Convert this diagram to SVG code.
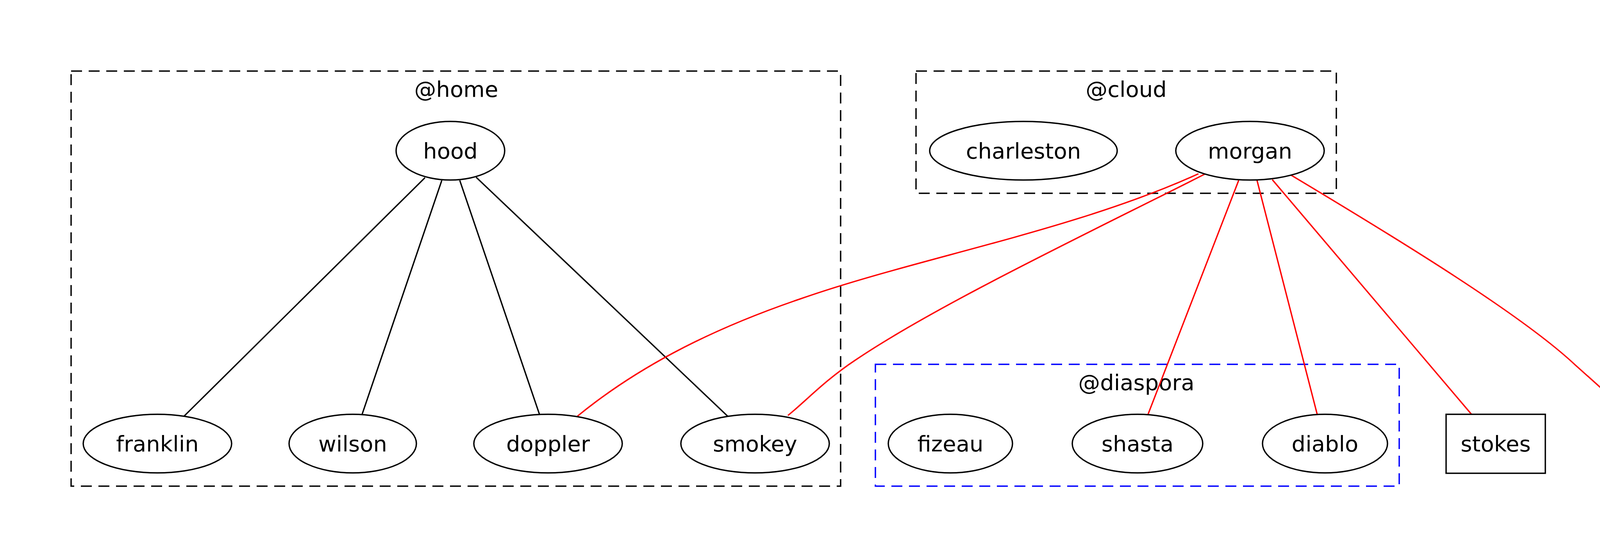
<svg xmlns="http://www.w3.org/2000/svg" width="4517" height="1429" viewBox="0 0 4517 1429">
<style>
text{font-family:"DejaVu Sans",sans-serif;font-size:56px;text-anchor:middle;dominant-baseline:central;fill:#000}
.n{fill:#fff;stroke:#000;stroke-width:3.5}
.c{fill:none;stroke:#000;stroke-width:3.5;stroke-dasharray:28,17}
.e{fill:none;stroke:#000;stroke-width:3.5}
.r{fill:none;stroke:#f00;stroke-width:3.5}
</style>
<rect width="4517" height="1429" fill="#fff"/>
<g id="cluster_home"><rect class="c" x="182" y="182" width="1970" height="1063"/><text x="1168" y="228">@home</text></g>
<g id="cluster_cloud"><rect class="c" x="2345" y="182" width="1076" height="313"/><text x="2883" y="228">@cloud</text></g>
<g id="cluster_diaspora"><rect class="c" style="stroke:#00f" x="2241" y="933" width="1341" height="312"/><text x="2909" y="979">@diaspora</text></g>
<g id="connectors">
<path class="e" d="M1088,455L471,1066"/>
<path class="e" d="M1131,462L927,1061"/>
<path class="e" d="M1177,462L1381,1061"/>
<path class="e" d="M1219,454L1863,1066"/>
<path class="r" d="M3068,445C2750,590 2350,660 2050,765C1800,850 1620,950 1478,1066"/>
<path class="r" d="M3084,446C2800,590 2400,780 2190,922C2110,975 2060,1030 2017,1064"/>
<path class="r" d="M3171,462L2939,1061"/>
<path class="r" d="M3218,462L3372,1061"/>
<path class="r" d="M3257,460L3767,1061"/>
<path class="r" d="M3306,449C3600,625 3900,810 4033,935C4100,995 4140,1030 4170,1061"/>
</g>
<g id="hood"><ellipse class="n" cx="1153" cy="386" rx="139" ry="75"/><text x="1153" y="386">hood</text></g>
<g id="franklin"><ellipse class="n" cx="403" cy="1136" rx="190" ry="75"/><text x="403" y="1136">franklin</text></g>
<g id="wilson"><ellipse class="n" cx="903" cy="1136" rx="163" ry="75"/><text x="903" y="1136">wilson</text></g>
<g id="doppler"><ellipse class="n" cx="1403" cy="1136" rx="190" ry="75"/><text x="1403" y="1136">doppler</text></g>
<g id="smokey"><ellipse class="n" cx="1933" cy="1136" rx="190" ry="75"/><text x="1933" y="1136">smokey</text></g>
<g id="charleston"><ellipse class="n" cx="2620" cy="386" rx="240" ry="75"/><text x="2620" y="386">charleston</text></g>
<g id="morgan"><ellipse class="n" cx="3200" cy="386" rx="190" ry="75"/><text x="3200" y="386">morgan</text></g>
<g id="fizeau"><ellipse class="n" cx="2433" cy="1136" rx="159" ry="75"/><text x="2433" y="1136">fizeau</text></g>
<g id="shasta"><ellipse class="n" cx="2912" cy="1136" rx="167" ry="75"/><text x="2912" y="1136">shasta</text></g>
<g id="diablo"><ellipse class="n" cx="3392" cy="1136" rx="160" ry="75"/><text x="3392" y="1136">diablo</text></g>
<g id="stokes"><rect class="n" x="3702" y="1061" width="254" height="151"/><text x="3829" y="1136">stokes</text></g>
<g id="galileo"><rect class="n" x="4108" y="1061" width="259" height="151"/><text x="4237" y="1136">galileo</text></g>
</svg>
